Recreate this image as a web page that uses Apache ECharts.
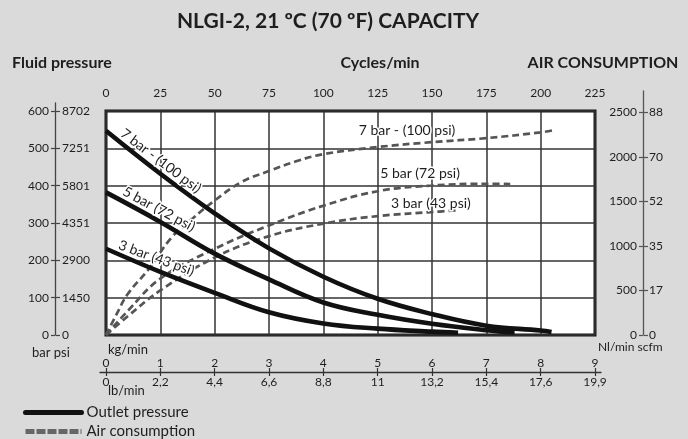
<!DOCTYPE html>
<html><head><meta charset="utf-8">
<script src="https://cdn.jsdelivr.net/npm/echarts@6/dist/echarts.min.js"></script>
<style>html,body{margin:0;padding:0;background:#dadada}#c{width:688px;height:439px}</style>
</head><body><div id="c"></div>
<script>
// ---------- DATA ----------
const cycleTicks = [0, 25, 50, 75, 100, 125, 150, 175, 200, 225];
const barTicks = [0, 100, 200, 300, 400, 500, 600];
const psiLabels = ['0', '1450', '2900', '4351', '5801', '7251', '8702'];
const nlTicks = [0, 500, 1000, 1500, 2000, 2500];
const scfmLabels = ['0', '17', '35', '52', '70', '88'];
const kgTicks = [0, 1, 2, 3, 4, 5, 6, 7, 8, 9];
const lbLabels = ['0', '2,2', '4,4', '6,6', '8,8', '11', '13,2', '15,4', '17,6', '19,9'];

// Outlet pressure (bar) vs cycles/min
const press7Cycles = [0, 25, 50, 75, 100, 125, 150, 175, 200, 205];
const press7Bar    = [547, 432, 326, 232, 156, 97, 56, 25, 12, 8];
const press5Cycles = [0, 25, 50, 75, 100, 125, 150, 175, 188];
const press5Bar    = [382, 303, 218, 149, 87, 54, 30, 13, 7];
const press3Cycles = [0, 25, 50, 75, 100, 125, 150, 162];
const press3Bar    = [231, 169, 113, 61, 31, 17, 9, 6];

// Air consumption (Nl/min) vs cycles/min
const air7Cycles = [0, 5, 10, 20, 30, 40, 50, 62.5, 75, 87.5, 100, 125, 150, 175, 200, 206];
const air7Nl     = [0, 240, 460, 750, 1090, 1310, 1510, 1720, 1840, 1950, 2030, 2110, 2165, 2210, 2275, 2300];
const air5Cycles = [0, 10, 25, 50, 75, 100, 125, 150, 175, 186];
const air5Nl     = [0, 270, 633, 967, 1230, 1451, 1614, 1678, 1697, 1695];
const air3Cycles = [0, 10, 25, 50, 75, 100, 125, 150, 161];
const air3Nl     = [0, 210, 500, 870, 1110, 1250, 1335, 1380, 1398];

// Curve labels (text, anchor in data units, angle in degrees)
const pressLabelText = ['7 bar - (100 psi)', '5 bar (72 psi)', '3 bar (43 psi)'];
const pressLabelCycles = [25.2, 24.4, 23.2];
const pressLabelBar = [466, 337, 206];
const pressLabelAngle = [37, 28, 20];
const airLabelText = ['7 bar - (100 psi)', '5 bar (72 psi)', '3 bar (43 psi)'];
const airLabelCycles = [138.5, 144.5, 149.5];
const airLabelNl = [2299, 1808, 1473];

// ---------- CHART ----------
const FONT = 'Lato, "Open Sans", sans-serif';
const TXT = '#1e1e1e';
const zip = (a, b) => a.map((v, i) => [v, b[i]]);

const chart = echarts.init(document.getElementById('c'), null, {renderer: 'canvas'});

const solidStyle = {color: '#111', width: 4.6, cap: 'butt'};
const dashStyle = {color: '#555', width: 2.7, type: [7, 4]};

function pressSeries(x, y) {
  return {type: 'line', name: 'Outlet pressure', xAxisIndex: 0, yAxisIndex: 0,
    data: zip(x, y), smooth: 0.4, showSymbol: false, symbol: 'none',
    lineStyle: solidStyle, itemStyle: {color: '#111'}, z: 5, silent: true};
}
function airSeries(x, y) {
  return {type: 'line', name: 'Air consumption', xAxisIndex: 0, yAxisIndex: 1,
    data: zip(x, y), smooth: 0.4, showSymbol: false, symbol: 'none',
    lineStyle: dashStyle, itemStyle: {color: '#555'}, z: 3, silent: true};
}

const leftMax = 600 * (335 - 103) / 224;
const rightMax = 2500 * (335 - 91) / 222.7;
const nlMainMax = 2500 * 224 / 222.7;
const plain = v => String(v);

const legendBase = {
  orient: 'vertical', left: 23, padding: 0, itemWidth: 56, itemHeight: 10, itemGap: 0,
  textStyle: {fontFamily: FONT, fontSize: 15, color: TXT},
  selectedMode: false
};

const option = {
  animation: false,
  backgroundColor: '#dadada',
  textStyle: {fontFamily: FONT, color: TXT},
  title: [
    {text: 'NLGI-2, 21 ºC (70 ºF) CAPACITY', left: 328, top: 11, textAlign: 'center', padding: 0,
     textStyle: {fontFamily: FONT, fontSize: 21, fontWeight: 'bold', color: TXT}},
    {text: 'Fluid pressure', left: 12, top: 55, padding: 0,
     textStyle: {fontFamily: FONT, fontSize: 16, fontWeight: 'bold', color: TXT}},
    {text: 'Cycles/min', left: 380, top: 55, textAlign: 'center', padding: 0,
     textStyle: {fontFamily: FONT, fontSize: 16, fontWeight: 'bold', color: TXT}},
    {text: 'AIR CONSUMPTION', left: 603, top: 55, textAlign: 'center', padding: 0,
     textStyle: {fontFamily: FONT, fontSize: 16, fontWeight: 'bold', color: TXT}}
  ],
  legend: [
    Object.assign({}, legendBase, {top: 405,
      lineStyle: {width: 5, cap: 'round', color: '#111', type: 'solid'},
      data: [{name: 'Outlet pressure', itemStyle: {opacity: 0},
              lineStyle: {width: 5, cap: 'round', color: '#111', type: 'solid'}}]}),
    Object.assign({}, legendBase, {top: 424,
      lineStyle: {width: 5, type: [9, 2], cap: 'butt', color: '#666'},
      data: [{name: 'Air consumption', itemStyle: {opacity: 0},
              lineStyle: {width: 5, type: [9, 2], cap: 'butt', color: '#666'}}]})
  ],
  grid: [
    {left: 106, right: 93, top: 111, bottom: 104, show: true, backgroundColor: '#ffffff',
     borderColor: '#141414', borderWidth: 3, z: 0},
    {left: 55, width: 1, top: 103, bottom: 104},
    {left: 643, width: 1, top: 91, bottom: 104},
    {left: 100, width: 501, top: 371, height: 1}
  ],
  xAxis: [
    {gridIndex: 0, type: 'value', position: 'top', min: 0, max: 225, interval: 25,
     axisLine: {show: false}, axisTick: {show: false},
     axisLabel: {margin: 12, fontSize: 12, color: TXT, fontFamily: FONT, formatter: plain},
     splitLine: {show: true, lineStyle: {color: '#333', width: 1.5}}},
    {gridIndex: 1, type: 'value', show: false, min: 0, max: 1},
    {gridIndex: 2, type: 'value', show: false, min: 0, max: 1},
    {gridIndex: 3, type: 'value', position: 'bottom', min: -0.11, max: 9.11,
     axisLine: {show: true, lineStyle: {color: '#333', width: 1.3}},
     axisTick: {show: true, inside: true, length: 4, customValues: kgTicks, lineStyle: {color: '#333', width: 1.2}},
     axisLabel: {inside: true, margin: 3, fontSize: 12, color: TXT, fontFamily: FONT, customValues: kgTicks, formatter: plain},
     splitLine: {show: false}},
    {gridIndex: 3, type: 'value', position: 'bottom', min: -0.11, max: 9.11,
     axisLine: {show: false},
     axisTick: {show: true, inside: false, length: 4, customValues: kgTicks, lineStyle: {color: '#333', width: 1.2}},
     axisLabel: {margin: 4, fontSize: 12, color: TXT, fontFamily: FONT, customValues: kgTicks,
       formatter: v => lbLabels[kgTicks.indexOf(v)] ?? ''},
     splitLine: {show: false}}
  ],
  yAxis: [
    {gridIndex: 0, type: 'value', min: 0, max: 600, interval: 100,
     axisLine: {show: false}, axisTick: {show: false}, axisLabel: {show: false},
     splitLine: {show: true, lineStyle: {color: '#333', width: 1.5}}},
    {gridIndex: 0, type: 'value', position: 'right', min: 0, max: nlMainMax, show: false,
     splitLine: {show: false}},
    {gridIndex: 1, type: 'value', position: 'left', min: 0, max: leftMax,
     axisLine: {show: true, lineStyle: {color: '#444', width: 1.3}},
     axisTick: {show: true, length: 4, customValues: barTicks, lineStyle: {color: '#444', width: 1.2}},
     axisLabel: {margin: 6, fontSize: 12, color: TXT, fontFamily: FONT, customValues: barTicks, formatter: plain},
     splitLine: {show: false}},
    {gridIndex: 1, type: 'value', position: 'right', min: 0, max: leftMax,
     axisLine: {show: false},
     axisTick: {show: true, length: 4, customValues: barTicks, lineStyle: {color: '#444', width: 1.2}},
     axisLabel: {margin: 6, fontSize: 12, color: TXT, fontFamily: FONT, customValues: barTicks,
       formatter: v => psiLabels[barTicks.indexOf(v)] ?? ''},
     splitLine: {show: false}},
    {gridIndex: 2, type: 'value', position: 'left', min: 0, max: rightMax,
     axisLine: {show: true, lineStyle: {color: '#555', width: 1.3}},
     axisTick: {show: true, length: 4, customValues: nlTicks, lineStyle: {color: '#555', width: 1.2}},
     axisLabel: {margin: 6, fontSize: 12, color: TXT, fontFamily: FONT, customValues: nlTicks, formatter: plain},
     splitLine: {show: false}},
    {gridIndex: 2, type: 'value', position: 'right', min: 0, max: rightMax,
     axisLine: {show: false},
     axisTick: {show: true, length: 4, customValues: nlTicks, lineStyle: {color: '#555', width: 1.2}},
     axisLabel: {margin: 5, fontSize: 12, color: TXT, fontFamily: FONT, customValues: nlTicks,
       formatter: v => scfmLabels[nlTicks.indexOf(v)] ?? ''},
     splitLine: {show: false}},
    {gridIndex: 3, type: 'value', show: false, min: 0, max: 1}
  ],
  series: [
    airSeries(air7Cycles, air7Nl),
    airSeries(air5Cycles, air5Nl),
    airSeries(air3Cycles, air3Nl),
    pressSeries(press7Cycles, press7Bar),
    pressSeries(press5Cycles, press5Bar),
    pressSeries(press3Cycles, press3Bar)
  ]
};
chart.setOption(option);

// Axis unit names and curve labels
const gfx = [
  {type: 'text', left: 32, top: 346, style: {text: 'bar psi', font: '13px ' + FONT, fill: TXT}},
  {type: 'text', left: 108, top: 343, style: {text: 'kg/min', font: '13px ' + FONT, fill: TXT}},
  {type: 'text', left: 108, top: 384, style: {text: 'lb/min', font: '13px ' + FONT, fill: TXT}},
  {type: 'text', left: 598, top: 341, style: {text: 'Nl/min scfm', font: '12px ' + FONT, fill: TXT}}
];
pressLabelText.forEach((t, i) => {
  const p = chart.convertToPixel({xAxisIndex: 0, yAxisIndex: 0}, [pressLabelCycles[i], pressLabelBar[i]]);
  gfx.push({type: 'text', x: p[0], y: p[1], rotation: -pressLabelAngle[i] * Math.PI / 180, z: 10,
    style: {text: t, font: '14px ' + FONT, fill: TXT, align: 'center', verticalAlign: 'middle',
      stroke: '#fff', lineWidth: 3}});
});
airLabelText.forEach((t, i) => {
  const p = chart.convertToPixel({xAxisIndex: 0, yAxisIndex: 1}, [airLabelCycles[i], airLabelNl[i]]);
  gfx.push({type: 'text', x: p[0], y: p[1], z: 10,
    style: {text: t, font: '14px ' + FONT, fill: TXT, align: 'center', verticalAlign: 'middle',
      stroke: '#fff', lineWidth: 3}});
});
chart.setOption({graphic: gfx});
</script></body></html>
